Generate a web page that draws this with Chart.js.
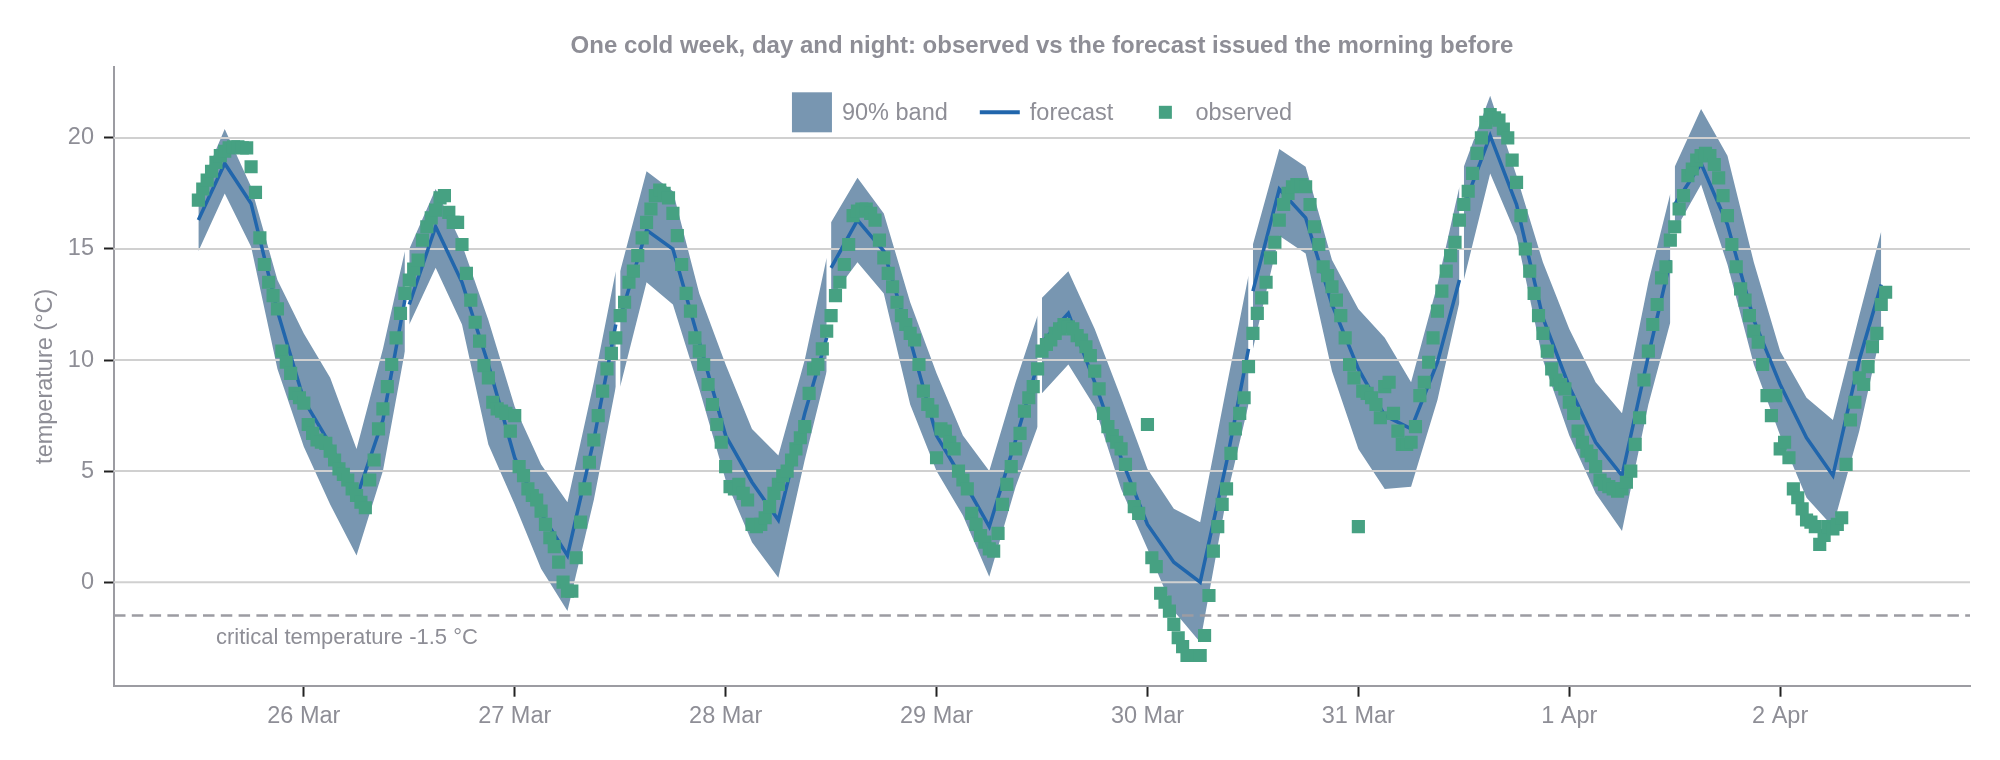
<!DOCTYPE html>
<html>
<head>
<meta charset="utf-8">
<title>One cold week</title>
<script src="https://cdn.jsdelivr.net/npm/chart.js@4.4.1/dist/chart.umd.min.js"></script>
<style>
  html, body { margin: 0; padding: 0; background: #ffffff; }
  canvas { display: block; }
</style>
</head>
<body>
<canvas id="chart" width="2000" height="760"></canvas>
<script>
// time runs in hours counted from 25 Mar 00:00
const dayLabels = ['26 Mar', '27 Mar', '28 Mar', '29 Mar', '30 Mar', '31 Mar', '1 Apr', '2 Apr'];
const dayTicks = [24, 48, 72, 96, 120, 144, 168, 192];
const tempTicks = [0, 5, 10, 15, 20];

// each forecast run covers 12:00 until 11:30 the next day
const issueHours = [12, 36, 60, 84, 108, 132, 156, 180];
const leadHours = [0, 3, 6, 9, 12, 15, 18, 21, 23.5];

const forecastMid = [
  [16.3, 18.85, 17.05, 12.2, 8.2, 6.2, 3.8, 7.3, 12.7],
  [12.5, 16.0, 13.5, 9.8, 5.6, 3.1, 1.2, 6.4, 11.6],
  [11.9, 15.85, 15.0, 10.8, 6.6, 4.5, 2.8, 7.6, 11.0],
  [14.15, 16.3, 14.9, 10.9, 6.6, 4.6, 2.5, 6.4, 9.8],
  [10.8, 12.1, 9.0, 5.6, 2.6, 0.9, 0.0, 5.4, 10.5],
  [13.1, 17.7, 16.4, 12.5, 9.6, 7.5, 6.9, 9.9, 13.6],
  [16.9, 20.1, 17.0, 11.9, 8.8, 6.3, 4.8, 10.2, 14.5],
  [17.0, 18.85, 16.1, 11.8, 8.9, 6.5, 4.8, 10.0, 13.4]
];
const bandHigh = [
  [17.6, 20.4, 17.8, 13.6, 11.2, 9.2, 6.0, 10.5, 14.9],
  [15.0, 17.7, 15.2, 11.8, 7.9, 5.3, 3.6, 9.0, 14.0],
  [14.0, 18.5, 17.6, 13.0, 9.8, 6.9, 5.7, 10.0, 14.6],
  [16.2, 18.2, 16.6, 12.6, 9.4, 6.6, 5.0, 9.0, 12.0],
  [12.8, 14.0, 11.4, 8.3, 5.1, 3.3, 2.7, 8.8, 13.8],
  [15.2, 19.5, 18.7, 14.5, 12.3, 11.0, 9.0, 13.4, 17.8],
  [18.7, 21.9, 18.3, 14.4, 11.4, 9.0, 7.6, 13.5, 17.5],
  [18.7, 21.3, 19.2, 14.4, 10.4, 8.3, 7.3, 12.0, 15.8]
];
const bandLow = [
  [14.9, 17.5, 15.1, 9.6, 6.1, 3.5, 1.2, 5.0, 10.4],
  [11.6, 14.15, 11.6, 6.2, 3.5, 0.6, -1.3, 3.7, 8.8],
  [8.8, 13.5, 12.5, 8.7, 4.6, 1.8, 0.2, 5.5, 9.5],
  [12.8, 14.4, 13.0, 8.0, 5.0, 3.0, 0.25, 4.3, 7.0],
  [8.5, 9.8, 7.9, 4.2, 1.5, -1.3, -2.7, 3.8, 8.0],
  [10.5, 15.6, 14.8, 9.5, 6.0, 4.2, 4.3, 8.2, 12.6],
  [13.6, 18.4, 15.6, 10.0, 6.6, 4.0, 2.3, 8.0, 11.7],
  [15.8, 17.9, 14.3, 9.8, 6.6, 3.8, 2.5, 6.8, 11.3]
];

// half-hourly observations, one row per forecast run (null = missing)
const obsStep = 0.5;
const observed = [
  [17.2, 17.7, 18.1, 18.5, 18.9, 19.2, 19.4, 19.55, 19.6, 19.6, 19.55, 19.55, 18.7, 17.55, 15.5, 14.3,
   13.5, 12.9, 12.3, 10.4, 9.9, 9.4, 8.5, 8.3, 8.06, 7.1, 6.7, 6.4, 6.3, 6.25, 5.9, 5.5,
   5.1, 4.85, 4.6, 4.2, 3.9, 3.6, 3.35, 4.6, 5.5, 6.9, 7.8, 8.8, 9.8, 11.0, 12.1, 13.0],
  [13.6, 14.1, 14.5, 15.4, 16.0, 16.4, 16.75, 17.3, 17.4, 16.65, 16.2, 16.2, 15.2, 13.9, 12.7, 11.7,
   10.85, 9.75, 9.2, 8.1, 7.8, 7.7, 7.6, 6.8, 7.5, 5.2, 4.8, 4.2, 3.9, 3.7, 3.2, 2.6,
   2.0, 1.6, 0.9, 0.0, -0.4, -0.4, 1.1, 2.7, 4.2, 5.4, 6.4, 7.5, 8.6, 9.6, 10.3, 11.0],
  [12.0, 12.6, 13.5, 14.0, 14.7, 15.5, 16.2, 16.8, 17.4, 17.65, 17.5, 17.3, 16.6, 15.6, 14.3, 13.0,
   12.2, 11.0, 10.4, 9.8, 8.9, 8.0, 7.1, 6.3, 5.2, 4.3, 4.2, 4.4, 4.0, 3.7, 2.6, 2.5,
   2.6, 2.9, 3.4, 4.0, 4.4, 4.8, 5.0, 5.5, 6.0, 6.5, 7.0, 8.5, 9.6, 9.8, 10.5, 11.3],
  [12.0, 12.9, 13.5, 14.3, 15.2, 16.5, 16.7, 16.8, 16.8, 16.6, 16.3, 15.4, 14.6, 13.9, 13.3, 12.6,
   12.0, 11.6, 11.2, 10.9, 9.8, 8.6, 8.0, 7.7, 5.6, 6.9, 6.8, 6.3, 6.0, 5.0, 4.6, 4.2,
   3.1, 2.6, 2.1, 1.8, 1.5, 1.4, 2.2, 3.5, 4.4, 5.2, 6.0, 6.7, 7.7, 8.3, 8.8, 9.6],
  [10.4, 10.7, 10.9, 11.2, 11.4, 11.6, 11.5, 11.4, 11.1, 10.9, 10.6, 10.2, 9.5, 8.7, 7.6, 7.0,
   6.6, 6.3, 6.0, 5.3, 4.2, 3.4, 3.1, null, 7.1, 1.1, 0.7, -0.5, -0.9, -1.3, -1.9, -2.5,
   -2.9, -3.3, -3.3, -3.3, -3.3, -2.4, -0.6, 1.4, 2.5, 3.5, 4.2, 5.8, 6.9, 7.6, 8.3, 9.7],
  [11.2, 12.1, 12.8, 13.5, 14.6, 15.3, 16.3, 17.0, 17.5, 17.8, 17.9, 17.9, 17.8, 17.0, 16.0, 15.2,
   14.2, 13.8, 13.3, 12.7, 12.0, 11.0, 9.8, 9.2, 2.5, 8.6, 8.5, 8.3, 8.0, 7.4, 8.8, 9.0,
   7.6, 6.8, 6.2, 6.2, 6.3, 7.0, 8.4, 9.0, 9.9, 11.0, 12.2, 13.1, 14.0, 14.7, 15.3, 16.3],
  [17.0, 17.6, 18.4, 19.3, 20.0, 20.7, 21.05, 20.9, 20.8, 20.4, 20.0, 19.0, 18.0, 16.5, 15.0, 14.0,
   13.0, 12.0, 11.2, 10.4, 9.6, 9.1, 8.9, 8.7, 8.1, 7.6, 6.8, 6.3, 5.9, 5.7, 5.2, 4.6,
   4.4, 4.3, 4.2, 4.1, 4.2, 4.5, 5.0, 6.2, 7.4, 9.1, 10.4, 11.6, 12.5, 13.7, 14.2, 15.4],
  [16.0, 16.8, 17.4, 18.3, 18.6, 19.0, 19.2, 19.3, 19.2, 18.8, 18.2, 17.4, 16.5, 15.2, 14.2, 13.2,
   12.7, 12.0, 11.3, 10.8, 9.8, 8.4, 7.5, 8.4, 6.0, 6.3, 5.6, 4.2, 3.8, 3.3, 2.8, 2.7,
   2.5, 1.7, 2.1, 2.5, 2.4, 2.6, 2.9, 5.3, 7.3, 8.1, 9.2, 8.9, 9.7, 10.6, 11.2, 12.5, 13.05]
];

const criticalTemp = -1.5;
const xMin = 2.4, xMax = 213.6;
const yMin = -4.66, yMax = 23.2;

const fontFamily = '"Liberation Sans", Arial, Helvetica, sans-serif';
const textGrey = '#8e8e96';
const axisGrey = '#9c9ca2';
const gridGrey = '#d0d0d0';
const bandColor = '#7896b1';
const lineBlue = '#2166ac';
const obsGreen = '#46a182';

Chart.defaults.font.family = fontFamily;
Chart.defaults.color = textGrey;

// build chart data from the arrays above
const obsPoints = [];
observed.forEach((row, d) => {
  row.forEach((v, i) => obsPoints.push({x: issueHours[d] + i * obsStep, y: v}));
});

const fcPoints = [];
forecastMid.forEach((row, d) => {
  row.forEach((v, k) => fcPoints.push({x: issueHours[d] + leadHours[k], y: v}));
  fcPoints.push({x: issueHours[d] + 23.75, y: null});
});

const datasets = [
  {
    label: 'observed',
    data: obsPoints,
    showLine: false,
    pointStyle: 'rect',
    pointRadius: 9.3,
    pointBorderWidth: 0,
    pointBackgroundColor: obsGreen,
    order: 0
  },
  {
    label: 'forecast',
    data: fcPoints,
    borderColor: lineBlue,
    borderWidth: 3.5,
    pointRadius: 0,
    tension: 0,
    fill: false,
    order: 1
  },
  {
    label: 'critical',
    data: [{x: xMin, y: criticalTemp}, {x: xMax, y: criticalTemp}],
    borderColor: axisGrey,
    borderWidth: 2.6,
    borderDash: [11.5, 6.3],
    pointRadius: 0,
    fill: false,
    order: 1
  }
];

issueHours.forEach((start, d) => {
  datasets.push({
    label: 'band low',
    data: leadHours.map((h, k) => ({x: start + h, y: bandLow[d][k]})),
    borderColor: 'rgba(0,0,0,0)',
    borderWidth: 0,
    pointRadius: 0,
    fill: false,
    order: 2
  });
  datasets.push({
    label: '90% band',
    data: leadHours.map((h, k) => ({x: start + h, y: bandHigh[d][k]})),
    borderColor: 'rgba(0,0,0,0)',
    borderWidth: 0,
    pointRadius: 0,
    backgroundColor: bandColor,
    fill: '-1',
    order: 2
  });
});

// grid lines sit on top of the band but under the line and the markers
let gridDone = false;
const gridOverBand = {
  id: 'gridOverBand',
  beforeDatasetsDraw() { gridDone = false; },
  beforeDatasetDraw(chart, args) {
    if (gridDone || args.meta.order >= 2) return;
    gridDone = true;
    const {ctx, chartArea, scales: {y}} = chart;
    ctx.save();
    ctx.strokeStyle = gridGrey;
    ctx.lineWidth = 2;
    y.ticks.forEach(t => {
      const py = y.getPixelForValue(t.value);
      ctx.beginPath();
      ctx.moveTo(chartArea.left, py);
      ctx.lineTo(chartArea.right, py);
      ctx.stroke();
    });
    ctx.restore();
  }
};

const criticalLabel = {
  id: 'criticalLabel',
  afterDatasetsDraw(chart) {
    const {ctx, chartArea, scales: {y}} = chart;
    ctx.save();
    ctx.font = '22px ' + fontFamily;
    ctx.fillStyle = textGrey;
    ctx.textBaseline = 'middle';
    ctx.textAlign = 'left';
    ctx.fillText('critical temperature ' + criticalTemp + ' °C', chartArea.left + 102, y.getPixelForValue(criticalTemp) + 22.5);
    ctx.restore();
  }
};

const legendItems = [
  {kind: 'patch', label: '90% band'},
  {kind: 'line', label: 'forecast'},
  {kind: 'square', label: 'observed'}
];

const insideLegend = {
  id: 'insideLegend',
  afterDraw(chart) {
    const {ctx, chartArea} = chart;
    const slot = 40, textGap = 10, itemGap = 32;
    ctx.save();
    ctx.font = '23.5px ' + fontFamily;
    ctx.textBaseline = 'middle';
    ctx.textAlign = 'left';
    const widths = legendItems.map(it => ctx.measureText(it.label).width);
    const total = widths.reduce((a, w) => a + slot + textGap + w, 0) + itemGap * (legendItems.length - 1);
    let x = (chartArea.left + chartArea.right) / 2 - total / 2;
    const cy = chartArea.top + 45.5;
    legendItems.forEach((it, i) => {
      if (it.kind === 'patch') {
        ctx.fillStyle = bandColor;
        ctx.fillRect(x, cy - 20, slot, 40);
      } else if (it.kind === 'line') {
        ctx.strokeStyle = lineBlue;
        ctx.lineWidth = 4;
        ctx.beginPath();
        ctx.moveTo(x, cy);
        ctx.lineTo(x + slot, cy);
        ctx.stroke();
      } else {
        ctx.fillStyle = obsGreen;
        ctx.fillRect(x + slot / 2 - 6.5, cy - 6.5, 13, 13);
      }
      ctx.fillStyle = textGrey;
      ctx.fillText(it.label, x + slot + textGap, cy + 1);
      x += slot + textGap + widths[i] + itemGap;
    });
    ctx.restore();
  }
};

new Chart(document.getElementById('chart'), {
  type: 'line',
  data: {datasets},
  options: {
    responsive: false,
    devicePixelRatio: 1,
    animation: false,
    events: [],
    layout: {padding: {left: 0, right: 30, top: 0, bottom: 0}},
    plugins: {
      legend: {display: false},
      tooltip: {enabled: false},
      title: {
        display: true,
        text: 'One cold week, day and night: observed vs the forecast issued the morning before',
        color: textGrey,
        font: {size: 24, weight: 'bold'},
        padding: {top: 32, bottom: 6},
        fullSize: false
      }
    },
    scales: {
      x: {
        type: 'linear',
        min: xMin,
        max: xMax,
        afterBuildTicks: s => { s.ticks = dayTicks.map(v => ({value: v})); },
        afterFit: s => { s.height = 74.3; },
        ticks: {
          autoSkip: false,
          maxRotation: 0,
          padding: 6,
          font: {size: 23.5},
          color: textGrey,
          callback: v => dayLabels[dayTicks.indexOf(v)]
        },
        grid: {drawOnChartArea: false, drawTicks: true, tickLength: 11, tickColor: '#222', tickWidth: 2},
        border: {display: true, color: axisGrey, width: 2}
      },
      y: {
        type: 'linear',
        min: yMin,
        max: yMax,
        afterBuildTicks: s => { s.ticks = tempTicks.map(v => ({value: v})); },
        afterFit: s => { s.width = 114; },
        ticks: {padding: 10, font: {size: 23.5}, color: textGrey},
        grid: {drawOnChartArea: false, drawTicks: true, tickLength: 10, tickColor: '#222', tickWidth: 2},
        border: {display: true, color: axisGrey, width: 2},
        title: {
          display: true,
          text: 'temperature (°C)',
          color: textGrey,
          font: {size: 23.5},
          padding: {top: 31, bottom: 0}
        }
      }
    }
  },
  plugins: [gridOverBand, criticalLabel, insideLegend]
});
</script>
</body>
</html>
